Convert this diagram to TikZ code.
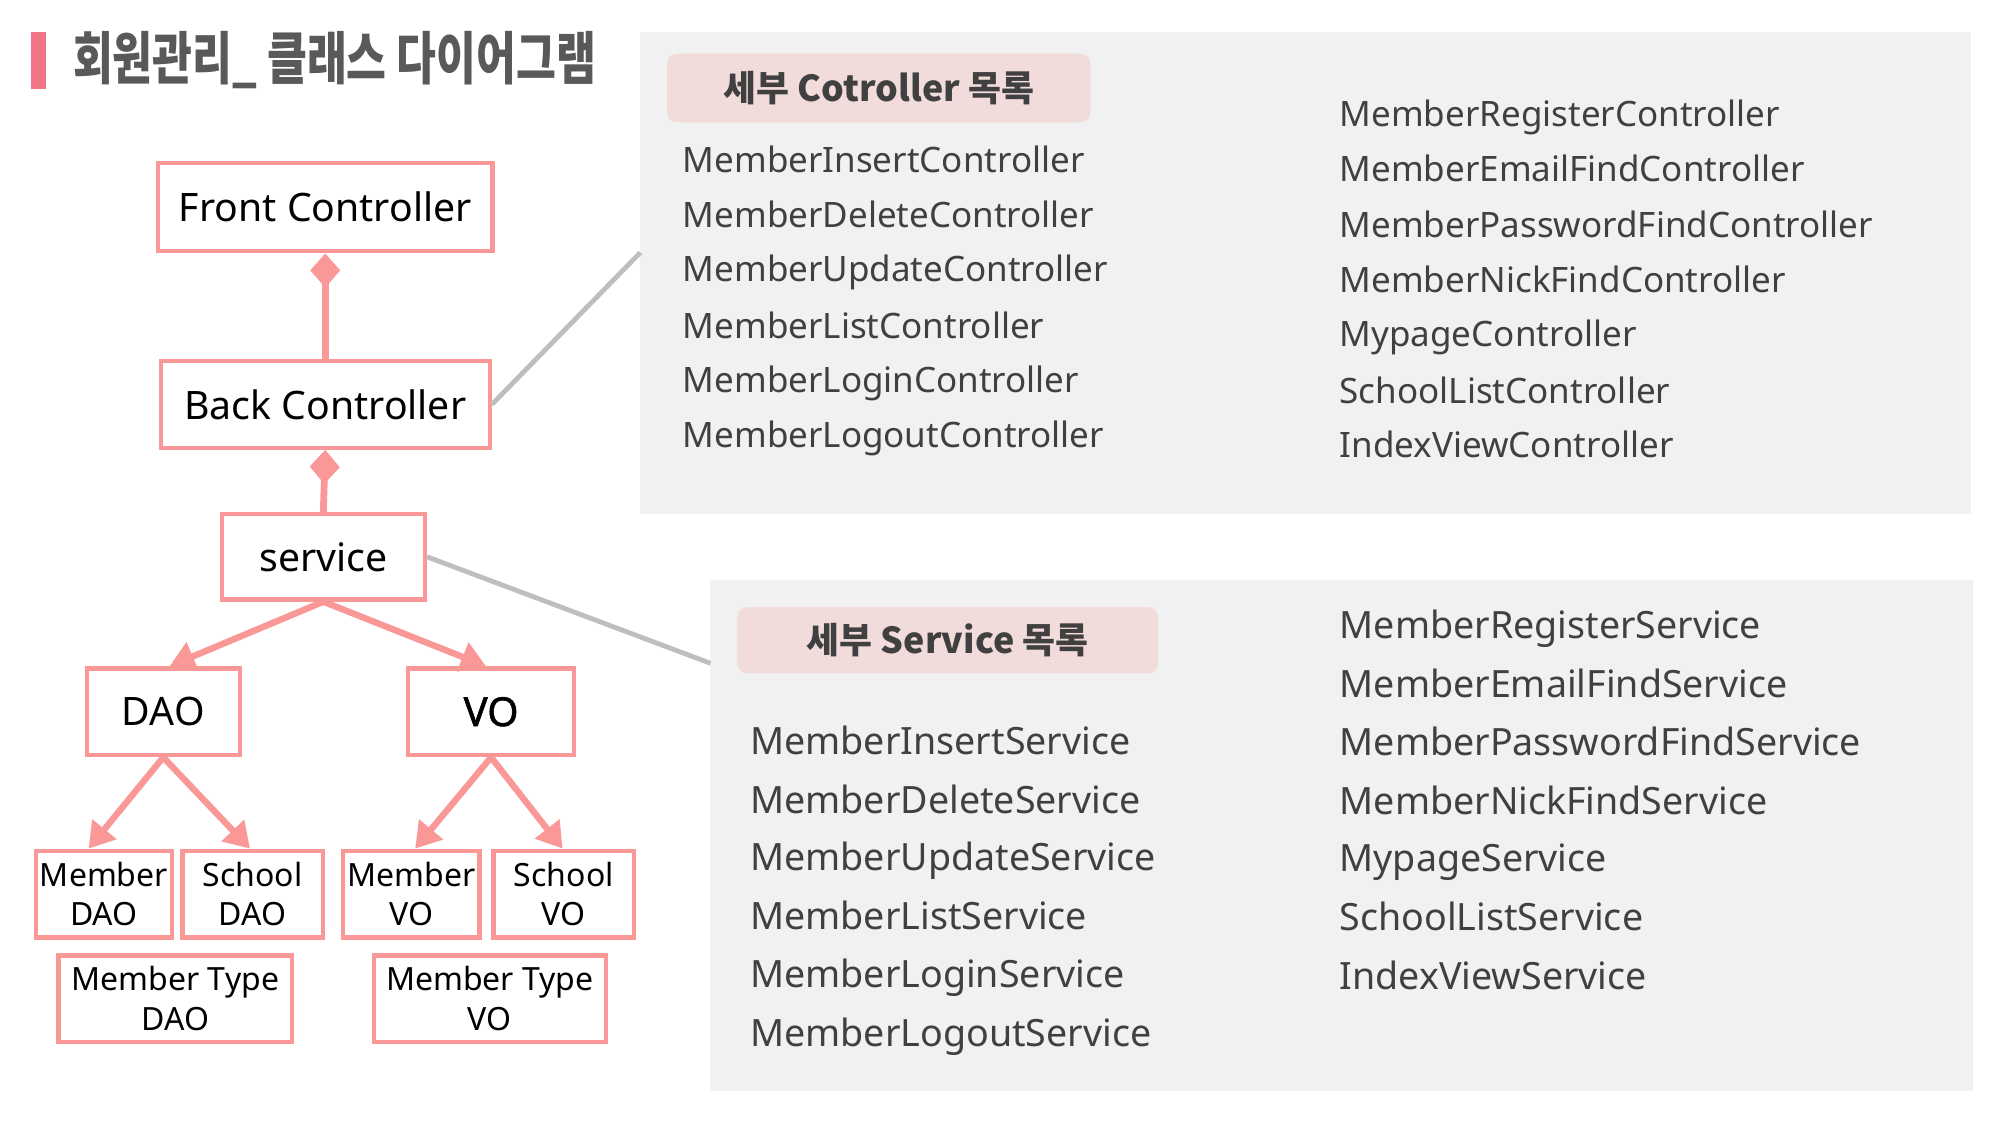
\documentclass[tikz,border=0pt]{standalone}
\usepackage{fontspec}
\setmainfont{Noto Sans}
\newfontfamily\kr{Noto Sans CJK KR}
\newfontfamily\semibold{Noto Sans}[FakeBold=1.4]
\usetikzlibrary{arrows.meta,calc}
\definecolor{boxpink}{RGB}{250,152,152}
\definecolor{barpink}{RGB}{240,117,133}
\definecolor{titlegray}{RGB}{89,89,89}
\definecolor{panelgray}{RGB}{241,241,241}
\definecolor{hdrpink}{RGB}{242,220,219}
\definecolor{listtext}{RGB}{64,64,64}
\definecolor{linkgray}{RGB}{190,190,190}
\newcommand{\ux}{0.6378pt}
\begin{document}
\begin{tikzpicture}[x=0.6378pt,y=-0.6378pt,
  tbox/.style={draw=boxpink, line width=2.2pt, fill=white, inner sep=0pt, align=center, text=black},
  bigtxt/.style={font=\fontsize{19.6}{24}\selectfont},
  smalltxt/.style={font=\fontsize{16}{19.8}\selectfont},
  arr/.style={draw=boxpink, line width=3.2pt, -{Triangle[length=12.5pt,width=15pt]}},
  comp/.style={draw=boxpink, line width=3.4pt, -{Diamond[length=17pt,width=15pt]}},
  link/.style={draw=linkgray, line width=2.4pt},
  panel/.style={fill=panelgray, inner sep=0pt, draw=none},
  hdr/.style={fill=hdrpink, rounded corners=8*\ux, inner sep=0pt, text=listtext, font=\kr\bfseries\fontsize{17.9}{21}\selectfont},
  ctl/.style={anchor=base west, inner sep=0pt, text=listtext, font=\fontsize{17.5}{20}\selectfont},
  svl/.style={anchor=base west, inner sep=0pt, text=listtext, font=\fontsize{18.8}{22}\selectfont}
]
\fill[white] (0,0) rectangle (1568,882);
\useasboundingbox (0,0) rectangle (1568,882);

% title
\fill[barpink] (24,25) rectangle (36,70);
\node[anchor=west, inner sep=0pt, text=titlegray, font=\kr\bfseries\fontsize{28.5}{32}\selectfont] (title) at (57,47) {\scalebox{0.76}[1]{회원관리\_ 클래스 다이어그램}};

% panels
\node[panel, minimum width={1043*\ux}, minimum height={378*\ux}] (p1) at (1023.5,214) {};
\node[panel, minimum width={990*\ux}, minimum height={400*\ux}] (p2) at (1052,655) {};

% headers
\node[hdr, minimum width={332*\ux}, minimum height={54*\ux}] (h1) at (689,69) {세부 Cotroller 목록};
\node[hdr, minimum width={330*\ux}, minimum height={52*\ux}] (h2) at (743,502) {세부 Service 목록};

% controller list
\node[ctl] (c1) at (535,135) {MemberInsertController};
\node[ctl] (c2) at (535,178) {MemberDeleteController};
\node[ctl] (c3) at (535,221) {MemberUpdateController};
\node[ctl] (c4) at (535,265) {MemberListController};
\node[ctl] (c5) at (535,308) {MemberLoginController};
\node[ctl] (c6) at (535,351) {MemberLogoutController};
\node[ctl] (c7) at (1050,99) {MemberRegisterController};
\node[ctl] (c8) at (1050,142) {MemberEmailFindController};
\node[ctl] (c9) at (1050,186) {MemberPasswordFindController};
\node[ctl] (c10) at (1050,229) {MemberNickFindController};
\node[ctl] (c11) at (1050,272) {MypageController};
\node[ctl] (c12) at (1050,316) {SchoolListController};
\node[ctl] (c13) at (1050,359) {IndexViewController};

% service list
\node[svl] (s1) at (588,591.5) {MemberInsertService};
\node[svl] (s2) at (588,637.5) {MemberDeleteService};
\node[svl] (s3) at (588,682.5) {MemberUpdateService};
\node[svl] (s4) at (588,728.5) {MemberListService};
\node[svl] (s5) at (588,774.5) {MemberLoginService};
\node[svl] (s6) at (588,820.5) {MemberLogoutService};
\node[svl] (s7) at (1050,500.5) {MemberRegisterService};
\node[svl] (s8) at (1050,546.5) {MemberEmailFindService};
\node[svl] (s9) at (1050,592.5) {MemberPasswordFindService};
\node[svl] (s10) at (1050,638.5) {MemberNickFindService};
\node[svl] (s11) at (1050,683.5) {MypageService};
\node[svl] (s12) at (1050,729.5) {SchoolListService};
\node[svl] (s13) at (1050,775.5) {IndexViewService};

% tree boxes
\node[tbox, bigtxt, minimum width={262*\ux}, minimum height={69*\ux}] (front) at (255,162.5) {Front Controller};
\node[tbox, bigtxt, minimum width={258*\ux}, minimum height={68*\ux}] (back) at (255,317) {Back Controller};
\node[tbox, bigtxt, minimum width={159*\ux}, minimum height={67*\ux}] (svc) at (253.5,436.5) {service};
\node[tbox, bigtxt, minimum width={120*\ux}, minimum height={68*\ux}] (dao) at (128,558) {DAO};
\node[tbox, minimum width={130*\ux}, minimum height={68*\ux}, font=\semibold\fontsize{20}{24}\selectfont] (vo) at (385,558) {VO};
\node[tbox, smalltxt, minimum width={107*\ux}, minimum height={68*\ux}] (mdao) at (81.5,701) {Member\\DAO};
\node[tbox, smalltxt, minimum width={110*\ux}, minimum height={68*\ux}] (sdao) at (198,701) {School\\DAO};
\node[tbox, smalltxt, minimum width={107*\ux}, minimum height={68*\ux}] (mvo) at (322.5,701) {Member\\VO};
\node[tbox, smalltxt, minimum width={110*\ux}, minimum height={68*\ux}] (svo) at (442,701) {School\\VO};
\node[tbox, smalltxt, minimum width={183*\ux}, minimum height={68*\ux}] (mtdao) at (137.5,783) {Member Type\\DAO};
\node[tbox, smalltxt, minimum width={182*\ux}, minimum height={68*\ux}] (mtvo) at (384,783) {Member Type\\VO};

% composition connectors
\draw[comp] (back.north) -- (front.south);
\draw[comp] (svc.north) -- (back.south);

% arrows
\draw[arr] (svc.south) -- ($(dao.north)+(5,0)$);
\draw[arr] (svc.south) -- ($(vo.north)+(-4,0)$);
\draw[arr] (dao.south) -- ($(mdao.north)+(-12,0)$);
\draw[arr] (dao.south) -- ($(sdao.north)+(-2,0)$);
\draw[arr] (vo.south) -- ($(mvo.north)+(3,0)$);
\draw[arr] (vo.south) -- ($(svo.north)+(-1,0)$);

% gray links
\coordinate (p1in) at (502,198);
\coordinate (p2in) at (557,520);
\draw[link] (back.east) -- (p1in);
\draw[link] (svc.east) -- (p2in);
\end{tikzpicture}
\end{document}
